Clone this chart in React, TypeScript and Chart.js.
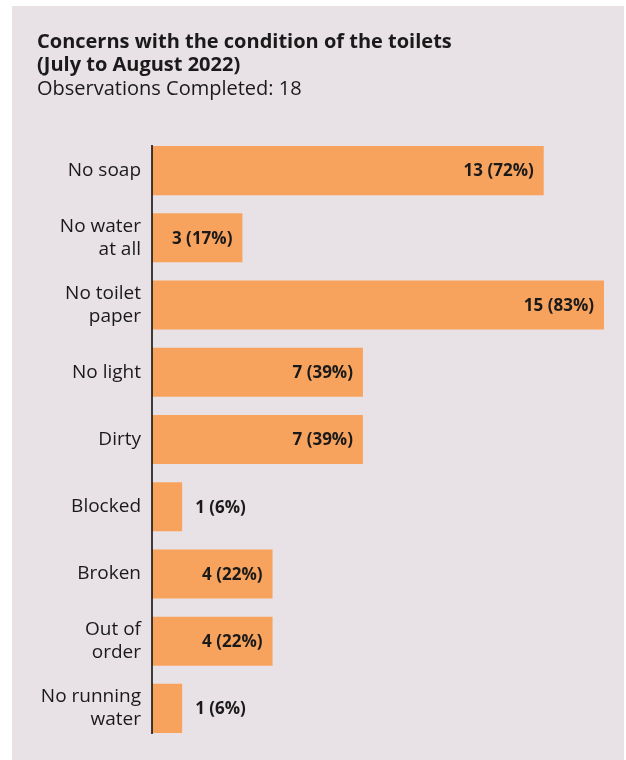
import React, { useEffect, useRef } from "react";
import { Chart, registerables } from "chart.js";

Chart.register(...registerables);

const categories: string[][] = [
  ["No soap"],
  ["No water", "at all"],
  ["No toilet", "paper"],
  ["No light"],
  ["Dirty"],
  ["Blocked"],
  ["Broken"],
  ["Out of", "order"],
  ["No running", "water"],
];
const counts = [13, 3, 15, 7, 7, 1, 4, 4, 1];
const percents = [72, 17, 83, 39, 39, 6, 22, 22, 6];
const titleLines = ["Concerns with the condition of the toilets", "(July to August 2022)"];
const subtitleText = "Observations Completed: 18";

const FONT = "'Open Sans', 'Noto Sans', sans-serif";
const BAR_COLOR = "#F8A35D";
const BG = "#E8E1E5";
const TEXT = "#1a1a1a";

const headerPlugin = {
  id: "header",
  afterDraw(chart: any) {
    const ctx = chart.ctx;
    ctx.save();
    ctx.fillStyle = TEXT;
    ctx.textAlign = "left";
    ctx.textBaseline = "alphabetic";
    ctx.font = `bold 20px ${FONT}`;
    ctx.fillText(titleLines[0], 25, 41.5);
    ctx.fillText(titleLines[1], 25, 65);
    ctx.font = `20px ${FONT}`;
    ctx.fillText(subtitleText, 25, 88.5);
    ctx.restore();
  },
};

const axisLinePlugin = {
  id: "axisLine",
  afterDatasetsDraw(chart: any) {
    const meta = chart.getDatasetMeta(0);
    const els = meta.data;
    if (!els.length) return;
    const first = els[0];
    const last = els[els.length - 1];
    const x = chart.chartArea.left;
    const ctx = chart.ctx;
    ctx.save();
    ctx.strokeStyle = "#111";
    ctx.lineWidth = 1.6;
    ctx.beginPath();
    ctx.moveTo(x, first.y - first.height / 2 - 1);
    ctx.lineTo(x, last.y + last.height / 2 + 1);
    ctx.stroke();
    ctx.restore();
  },
};

const valueLabelPlugin = {
  id: "valueLabels",
  afterDatasetsDraw(chart: any) {
    const meta = chart.getDatasetMeta(0);
    const ctx = chart.ctx;
    ctx.save();
    ctx.font = `bold 17px ${FONT}`;
    ctx.fillStyle = TEXT;
    ctx.textBaseline = "middle";
    meta.data.forEach((el: any, i: number) => {
      const txt = `${counts[i]} (${percents[i]}%)`;
      const w = ctx.measureText(txt).width;
      const len = el.x - el.base;
      if (len >= w + 18) {
        ctx.textAlign = "right";
        ctx.fillText(txt, el.x - 10, el.y + 1);
      } else {
        ctx.textAlign = "left";
        ctx.fillText(txt, el.x + 13, el.y + 1);
      }
    });
    ctx.restore();
  },
};

export default function App() {
  const canvasRef = useRef<HTMLCanvasElement | null>(null);

  useEffect(() => {
    if (!canvasRef.current) return;
    const chart = new Chart(canvasRef.current, {
      type: "bar",
      data: {
        labels: categories,
        datasets: [
          {
            data: counts,
            backgroundColor: BAR_COLOR,
            borderWidth: 0,
            categoryPercentage: 1,
            barPercentage: 0.73,
          },
        ],
      },
      options: {
        indexAxis: "y",
        animation: false,
        responsive: true,
        maintainAspectRatio: false,
        devicePixelRatio: 1,
        layout: { padding: { left: 25, right: 20, top: 131, bottom: 18 } },
        plugins: {
          legend: { display: false },
          tooltip: { enabled: false },
          title: { display: false },
        },
        scales: {
          x: {
            display: false,
            min: 0,
            max: 15,
            grid: { display: false },
          },
          y: {
            grid: { display: false, drawTicks: false },
            border: { display: false },
            ticks: {
              color: TEXT,
              padding: 11,
              font: { family: FONT, size: 19, lineHeight: 1.22 },
            },
            afterFit(scale: any) {
              scale.width = 115;
              scale.paddingTop = 0;
              scale.paddingBottom = 0;
            },
          },
        },
      },
      plugins: [headerPlugin, axisLinePlugin, valueLabelPlugin],
    });
    return () => chart.destroy();
  }, []);

  return (
    <div
      style={{
        position: "absolute",
        left: 12,
        top: 6,
        width: 612,
        height: 754,
        background: BG,
      }}
    >
      <canvas ref={canvasRef} />
    </div>
  );
}
